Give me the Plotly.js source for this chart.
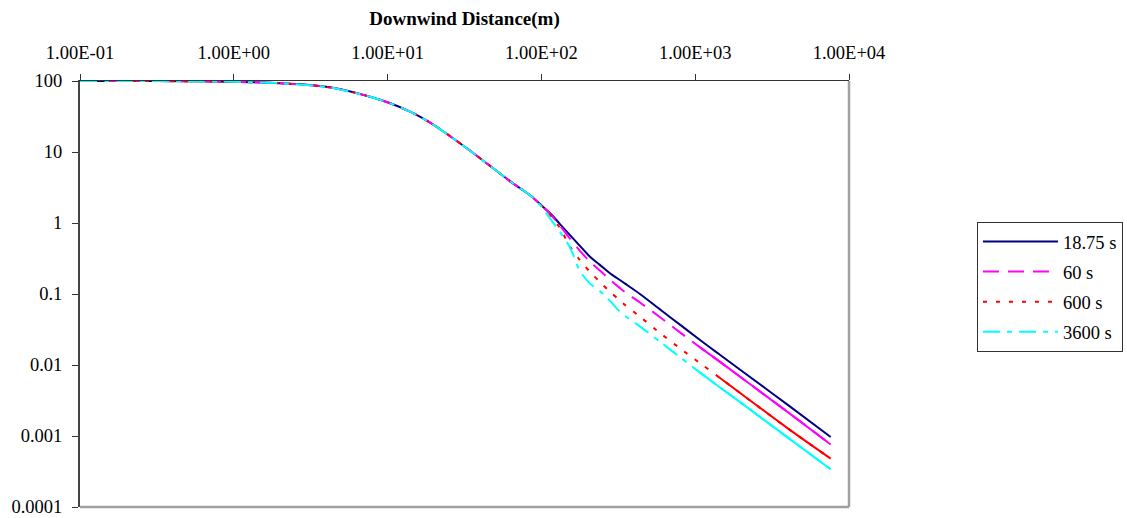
<!DOCTYPE html>
<html>
<head>
<meta charset="utf-8">
<script src="https://cdn.plot.ly/plotly-3.0.1.min.js"></script>
<style>
  html, body { margin: 0; padding: 0; background: #ffffff; }
  #chart { width: 1127px; height: 518px; }
</style>
</head>
<body>
<div id="chart"></div>
<script>
// Downwind distance (m)
const distance = [0.1, 0.2, 0.5, 1, 2, 4.2, 7.7, 10.4, 14, 18.9, 25, 32.7, 48.6, 65, 84,
  100, 114, 132, 153, 178, 207, 240, 279, 320, 350, 437, 600, 796, 1075, 1400, 2000, 4000, 7600];

// Series values
const s18_75 = [100, 100, 99.3, 97.5, 93, 81.5, 60, 48.5, 37, 26, 17.2, 11.3, 5.9, 3.65, 2.48,
  1.77, 1.37, 0.966, 0.68, 0.477, 0.335, 0.257, 0.196, 0.16, 0.14, 0.1, 0.059, 0.037, 0.0225, 0.0147, 0.0083, 0.00274, 0.00097];
const s60 = [100, 100, 99.3, 97.5, 93, 81.5, 60, 48.5, 37, 26, 17.2, 11.3, 5.9, 3.65, 2.48,
  1.77, 1.34, 0.92, 0.606, 0.406, 0.285, 0.214, 0.159, 0.124, 0.106, 0.076, 0.046, 0.0288, 0.0177, 0.0117, 0.0066, 0.00217, 0.00076];
const s600 = [100, 100, 99.3, 97.5, 93, 81.5, 60, 48.5, 37, 26, 17.2, 11.3, 5.9, 3.65, 2.48,
  1.77, 1.3, 0.85, 0.47, 0.3, 0.205, 0.148, 0.108, 0.083, 0.07, 0.048, 0.0275, 0.0172, 0.0106, 0.00695, 0.0039, 0.00128, 0.00048];
const s3600 = [100, 100, 99.3, 97.5, 93, 81.5, 60, 48.5, 37, 26, 17.2, 11.3, 5.9, 3.65, 2.48,
  1.7, 1.15, 0.75, 0.46, 0.21, 0.14, 0.11, 0.08, 0.058, 0.049, 0.035, 0.0207, 0.0129, 0.0078, 0.0051, 0.0029, 0.00095, 0.00034];

const seriesNames = ['18.75 s', '60 s', '600 s', '3600 s'];

// Tick labels
const xTickVals = [0.1, 1, 10, 100, 1000, 10000];
const xTickText = ['1.00E-01', '1.00E+00', '1.00E+01', '1.00E+02', '1.00E+03', '1.00E+04'];
const yTickVals = [0.0001, 0.001, 0.01, 0.1, 1, 10, 100];
const yTickText = ['0.0001', '0.001', '0.01', '0.1', '1', '10', '100'];

const FONT = 'Liberation Serif, Times New Roman, serif';

const styles = [
  {color: '#000080', dash: 'solid', solidFrom: null, smooth: 1.0},
  {color: '#FF00FF', dash: '16px,9px', solidFrom: 1075, smooth: 0.8},
  {color: '#FF0000', dash: '4px,9px', solidFrom: 1400, smooth: 0.8},
  {color: '#00FFFF', dash: '17px,7px,5px,7px', solidFrom: 1075, smooth: 0.6}
];
const seriesData = [s18_75, s60, s600, s3600];

const traces = [];
seriesData.forEach((ys, i) => {
  const st = styles[i];
  traces.push({
    x: distance, y: ys, type: 'scatter', mode: 'lines',
    name: seriesNames[i], legendgroup: 'g' + i,
    line: {color: st.color, width: 2, dash: st.dash, shape: 'spline', smoothing: st.smooth}
  });
});
// far-field portions drawn solid, as in the reference
seriesData.forEach((ys, i) => {
  const st = styles[i];
  if (st.solidFrom === null) return;
  const k = distance.indexOf(st.solidFrom);
  traces.push({
    x: distance.slice(k), y: ys.slice(k), type: 'scatter', mode: 'lines',
    name: seriesNames[i], legendgroup: 'g' + i, showlegend: false,
    line: {color: st.color, width: 2, shape: 'spline', smoothing: st.smooth}
  });
});

const layout = {
  width: 1127, height: 518,
  margin: {l: 80, r: 278, t: 81, b: 11, autoexpand: false},
  paper_bgcolor: '#ffffff', plot_bgcolor: '#ffffff',
  font: {family: FONT, color: '#000000', size: 18},
  showlegend: true,
  legend: {
    x: 1.1664, y: 0.669, xanchor: 'left', yanchor: 'top',
    bgcolor: '#ffffff', bordercolor: '#333333', borderwidth: 1,
    font: {family: FONT, size: 18.5, color: '#000000'},
    itemwidth: 75, tracegroupgap: 3, traceorder: 'grouped'
  },
  xaxis: {
    type: 'log', range: [-1, 4], side: 'top',
    tickvals: xTickVals, ticktext: xTickText,
    ticks: 'outside', ticklen: 6, tickwidth: 1, tickcolor: '#333333',
    showline: true, linecolor: '#333333', linewidth: 1.5,
    showgrid: false, zeroline: false,
    tickfont: {family: FONT, size: 18.5, color: '#000000'},
    ticklabelstandoff: 7,
    title: {text: '<b>Downwind Distance(m)</b>', font: {family: FONT, size: 19, color: '#000000'}, standoff: 12},
    automargin: false
  },
  yaxis: {
    type: 'log', range: [-4, 2],
    tickvals: yTickVals, ticktext: yTickText,
    ticks: 'outside', ticklen: 6, tickwidth: 1, tickcolor: '#333333',
    showline: true, linecolor: '#444444', linewidth: 2,
    showgrid: false, zeroline: false,
    tickfont: {family: FONT, size: 18.5, color: '#000000'},
    ticklabelstandoff: 6,
    automargin: false
  },
  shapes: [
    {type: 'line', xref: 'paper', yref: 'paper', x0: 0, x1: 1, y0: 0, y1: 0,
     line: {color: '#a0a0a0', width: 2.5}},
    {type: 'line', xref: 'paper', yref: 'paper', x0: 1, x1: 1, y0: 0, y1: 1,
     line: {color: '#a0a0a0', width: 2.5}}
  ]
};

Plotly.newPlot('chart', traces, layout, {displayModeBar: false, staticPlot: true});
</script>
</body>
</html>
